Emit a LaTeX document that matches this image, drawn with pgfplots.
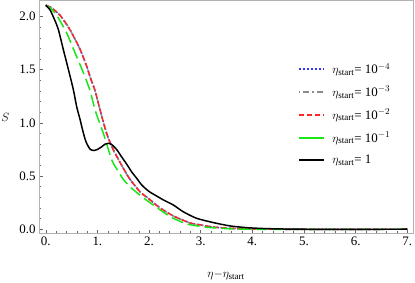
\documentclass[border=0pt]{standalone}
\usepackage{pgfplots}
\pgfplotsset{compat=1.18}
\usepackage{fontspec}
\setmainfont{Liberation Serif}
\definecolor{cblue}{rgb}{0.2,0.2,1}
\definecolor{cgray}{rgb}{0.55,0.55,0.55}
\definecolor{cred}{rgb}{1,0.15,0.15}
\definecolor{cgreen}{rgb}{0.1,0.9,0.1}
\begin{document}
\begin{tikzpicture}
\begin{axis}[
  scale only axis, width=374bp, height=233bp,
  xmin=-0.13, xmax=7.11, ymin=-0.04, ymax=2.15,
  axis line style={gray!60},
  every tick/.style={gray!80!black},
  xtick={0,1,2,3,4,5,6,7},
  xticklabels={0.,1.,2.,3.,4.,5.,6.,7.},
  ytick={0,0.5,1,1.5,2},
  yticklabels={0.0,0.5,1.0,1.5,2.0},
  minor x tick num=4, minor y tick num=4,
  tick align=inside, xtick pos=left, ytick pos=left,
  major tick length=4bp, minor tick length=2.2bp,
  /pgf/number format/assume math mode=true,
  ticklabel style={font=\fontsize{13}{15}\selectfont},
  xlabel={$\eta{-}\eta_{\mathrm{start}}$},
  ylabel={$S$},
  every axis x label/.style={at={(axis description cs:0.5,-0.18)}, anchor=center, font=\fontsize{13}{15}\selectfont},
  every axis y label/.style={at={(axis description cs:-0.09,0.5)}, anchor=center, font=\fontsize{13}{15}\selectfont},
  legend cell align=left,
  legend style={draw=none, fill=none, at={(axis description cs:0.692,0.74)}, anchor=north west,
    font=\fontsize{13}{15}\selectfont, row sep=7.3bp, column sep=6bp, inner sep=0pt},
  legend image code/.code={\draw[#1] (0bp,0bp) -- (25bp,0bp);},
]
\pgfplotstableread{
x y
0 2.105
0.1 2.085
0.28 2.01
0.47 1.875
0.666 1.69
0.795 1.53
0.86 1.43
0.956 1.30
1.053 1.12
1.18 0.90
1.31 0.745
1.50 0.575
1.63 0.47
1.83 0.35
2.0 0.285
2.2 0.205
2.47 0.125
2.79 0.06
3.0 0.04
3.25 0.02
3.6 0.008
3.9 0.003
4.5 0.0
7.0 0.0
}\redtab
\pgfplotstableread{
x y
0 2.105
0.085 2.08
0.215 2.01
0.41 1.84
0.57 1.655
0.73 1.47
0.86 1.30
0.956 1.12
1.117 0.90
1.28 0.65
1.41 0.54
1.50 0.47
1.63 0.40
1.8 0.33
1.96 0.27
2.15 0.205
2.41 0.118
2.73 0.05
3.12 0.019
3.57 0.004
4.0 0.0
7.0 0.0
}\greentab
\pgfplotstableread{
x y
0 2.105
0.085 2.06
0.18 1.96
0.246 1.875
0.343 1.685
0.44 1.50
0.536 1.31
0.60 1.15
0.666 1.03
0.70 0.96
0.76 0.85
0.80 0.80
0.86 0.752
0.93 0.74
1.0 0.75
1.086 0.776
1.15 0.80
1.21 0.808
1.28 0.795
1.38 0.745
1.47 0.68
1.57 0.61
1.67 0.535
1.76 0.48
1.86 0.415
2.0 0.355
2.12 0.32
2.28 0.275
2.47 0.228
2.66 0.165
2.92 0.103
3.25 0.062
3.57 0.031
3.89 0.015
4.2 0.007
4.53 0.003
5.0 0.0
7.0 0.0
}\blacktab
\addplot[color=cblue, line width=1.5pt, dash pattern=on 2bp off 2bp, smooth, tension=0.4] table {\redtab};
\addlegendentry{$\eta_{\mathrm{start}}$= 10$^{-4}$}
\addplot[color=cgray, line width=1.5pt, dash pattern=on 4bp off 2bp on 1bp off 2bp, smooth, tension=0.4,
  legend image post style={dash pattern=on 1.5bp off 3bp on 6bp off 3bp}] table {\redtab};
\addlegendentry{$\eta_{\mathrm{start}}$= 10$^{-3}$}
\addplot[color=cred, line width=1.5pt, dash pattern=on 5bp off 3bp, smooth, tension=0.4] table {\redtab};
\addlegendentry{$\eta_{\mathrm{start}}$= 10$^{-2}$}
\addplot[color=cgreen, line width=1.5pt, dash pattern=on 12bp off 5bp, smooth, tension=0.4,
  legend image post style={solid}] table {\greentab};
\addlegendentry{$\eta_{\mathrm{start}}$= 10$^{-1}$}
\addplot[color=black, line width=1.5pt, smooth, tension=0.4] table {\blacktab};
\addlegendentry{$\eta_{\mathrm{start}}$= 1}
\end{axis}
\pgfresetboundingbox
\path ([shift={(-39bp,-49.3bp)}]current axis.south west) rectangle ([shift={(2bp,0.5bp)}]current axis.north east);
\end{tikzpicture}
\end{document}
